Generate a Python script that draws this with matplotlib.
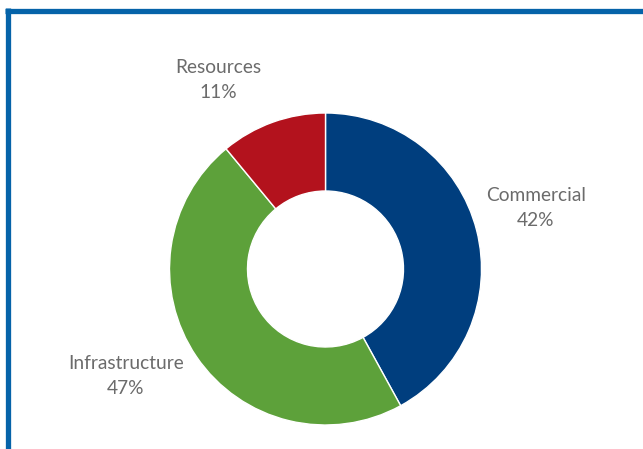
import matplotlib
matplotlib.use("Agg")
import matplotlib.pyplot as plt
from matplotlib.lines import Line2D

categories = ["Commercial", "Infrastructure", "Resources"]
values = [42, 47, 11]
colors = ["#003E7E", "#5DA13A", "#B3121D"]

W, H = 643, 449
fig = plt.figure(figsize=(W / 100, H / 100), dpi=100)
ax = fig.add_axes([0, 0, 1, 1])
ax.set_xlim(0, W)
ax.set_ylim(0, H)
ax.set_aspect("equal")
ax.axis("off")

cx, cy, r = 325.5, H - 269, 156
ax.pie(values, colors=colors, startangle=90, counterclock=False,
       center=(cx, cy), radius=r,
       wedgeprops=dict(width=r * 0.5, edgecolor="white", linewidth=1))
ax.set_xlim(0, W)
ax.set_ylim(0, H)

label_pos = {"Commercial": (536, 208), "Infrastructure": (126, 376), "Resources": (218, 80)}
for cat, v in zip(categories, values):
    x, y = label_pos[cat]
    ax.text(x, H - y, f"{cat}\n{v}%", ha="center", va="center",
            fontsize=13.8, color="#6B6B6B", family="Lato", linespacing=1.55)

border = "#0563A9"
fig.add_artist(Line2D([5 / W, 1], [1 - 10.5 / H, 1 - 10.5 / H], color=border, lw=3.8,
                      transform=fig.transFigure, solid_capstyle="butt"))
fig.add_artist(Line2D([7.5 / W, 7.5 / W], [0, 1 - 8 / H], color=border, lw=3.8,
                      transform=fig.transFigure, solid_capstyle="butt"))

fig.savefig("out.png", dpi=100)
